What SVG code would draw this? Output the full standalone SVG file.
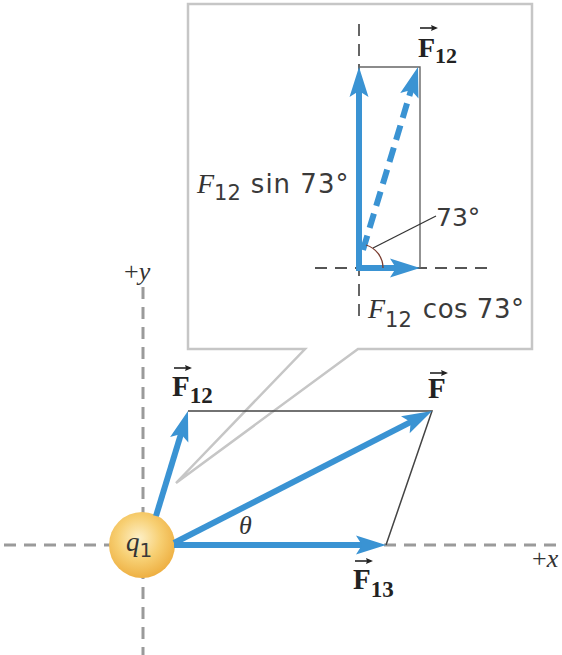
<svg xmlns="http://www.w3.org/2000/svg" width="562" height="655" viewBox="0 0 562 655">
<defs>
<style>
.vec{stroke:#3a93d3;stroke-width:6;fill:none;marker-end:url(#ah)}
.axis{stroke:#9a9a9a;stroke-width:3;stroke-dasharray:12 8;fill:none}
.iaxis{stroke:#555;stroke-width:1.8;stroke-dasharray:12 8;fill:none}
.thin{stroke:#444;stroke-width:1.5;fill:none}
.ov{stroke:#222;stroke-width:1.6;fill:none;marker-end:url(#sh)}
.b{font-family:"Liberation Serif",serif;font-weight:bold;fill:#222}
.i{font-family:"Liberation Serif",serif;font-style:italic;fill:#333}
.r{font-family:"Liberation Serif",serif;fill:#333}
.s{font-family:"DejaVu Sans",sans-serif;fill:#3a3a3a}
</style>
<marker id="ah" markerUnits="userSpaceOnUse" viewBox="-20 -12 40 24" markerWidth="40" markerHeight="24" refX="0" refY="0" orient="auto">
<path d="M16,0 L-14,-9.5 L-8,0 L-14,9.5 Z" fill="#3a93d3"/>
</marker>
<marker id="sh" markerUnits="userSpaceOnUse" viewBox="-6 -4 8 8" markerWidth="8" markerHeight="8" refX="0" refY="0" orient="auto">
<path d="M2,0 L-5,-3 L-4,0 L-5,3 Z" fill="#222"/>
</marker>
<radialGradient id="ball" cx="0.45" cy="0.4" r="0.6">
<stop offset="0" stop-color="#fdf0c8"/>
<stop offset="0.55" stop-color="#f7cf72"/>
<stop offset="1" stop-color="#eeb043"/>
</radialGradient>
</defs>

<g id="callout">
<path d="M188,4 L532,4 L532,349 L358,349 L176,483 L305,349 L188,349 Z" fill="#ffffff" stroke="#c6c6c6" stroke-width="2.5" stroke-linejoin="miter"/>
</g>

<g id="axes">
<line class="axis" x1="143" y1="287" x2="143" y2="655"/>
<line class="axis" x1="4" y1="545" x2="562" y2="545"/>
<text class="r" x="124" y="280" font-size="26">+<tspan class="i">y</tspan></text>
<text class="r" x="532" y="567" font-size="26">+<tspan class="i">x</tspan></text>
</g>

<g id="parallelogram">
<path class="thin" d="M188,411 L432,411 L386,545"/>
</g>

<g id="q1">
<circle cx="142" cy="545" r="33" fill="url(#ball)"/>
<text class="i" x="126" y="551" font-size="27">q<tspan class="s" font-style="normal" font-size="20" dy="6" fill="#333">1</tspan></text>
</g>

<g id="connectors">
<line class="vec" x1="174" y1="545" x2="370" y2="545"/>
<line class="vec" x1="174" y1="543" x2="417.8" y2="418.3"/>
<line class="vec" x1="156" y1="516" x2="183.3" y2="426.3"/>
</g>

<g id="labels">
<text class="i" x="239" y="534" font-size="26">θ</text>
<g id="lbl-F12">
<text class="b" x="172" y="396" font-size="29">F<tspan font-size="23" dy="7">12</tspan></text>
<line class="ov" x1="174" y1="368" x2="190" y2="368"/>
</g>
<g id="lbl-F">
<text class="b" x="428" y="398" font-size="29">F</text>
<line class="ov" x1="430" y1="373" x2="446" y2="373"/>
</g>
<g id="lbl-F13">
<text class="b" x="353" y="589" font-size="29">F<tspan font-size="23" dy="8">13</tspan></text>
<line class="ov" x1="355" y1="561" x2="371" y2="561"/>
</g>
</g>

<g id="inset">
<line class="iaxis" x1="359" y1="24" x2="359" y2="316"/>
<line class="iaxis" x1="315" y1="268" x2="488" y2="268"/>
<path d="M359,67 L420,67 L420,268" stroke="#666" stroke-width="1.4" fill="none"/>
<line class="vec" x1="359" y1="271" x2="359" y2="83"/>
<line class="vec" x1="356" y1="268" x2="404" y2="268"/>
<line class="vec" x1="363" y1="250" x2="413.4" y2="82.3" stroke-dasharray="15 8"/>
<path d="M383,268 A24,24 0 0 0 366,245" stroke="#7a3b2e" stroke-width="1.3" fill="none"/>
<line x1="373" y1="248" x2="436" y2="216" stroke="#333" stroke-width="1.2"/>
<text class="s" x="436" y="226" font-size="25">73°</text>
<g id="lbl-inset-F12">
<text class="b" x="418" y="57" font-size="28">F<tspan font-size="22" dy="6">12</tspan></text>
<line class="ov" x1="420" y1="28" x2="436" y2="28"/>
</g>
<text x="197" y="193" font-size="26"><tspan class="i" font-size="28">F</tspan><tspan class="s" font-size="21" dy="7">12</tspan><tspan class="s" dy="-7" dx="10" letter-spacing="1">sin 73°</tspan></text>
<text x="368" y="318" font-size="26"><tspan class="i" font-size="28">F</tspan><tspan class="s" font-size="21" dy="9">12</tspan><tspan class="s" dy="-9" dx="11" letter-spacing="0.5">cos 73°</tspan></text>
</g>
</svg>
